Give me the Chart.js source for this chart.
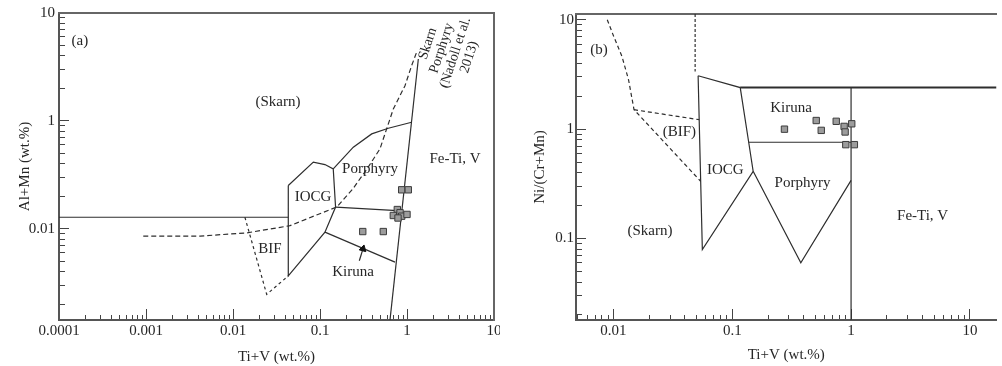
<!DOCTYPE html>
<html><head><meta charset="utf-8">
<script src="https://cdn.jsdelivr.net/npm/chart.js@4.4.1/dist/chart.umd.min.js"></script>
<style>
html,body{margin:0;padding:0;background:#fff;}
#wrap{position:relative;width:1002px;height:366px;overflow:hidden;background:#fff;}
canvas{position:absolute;top:0;}
#ca{left:0;}
#cb{left:500px;}
</style></head><body>
<div id="wrap"><canvas id="ca" width="500" height="366"></canvas><canvas id="cb" width="502" height="366"></canvas></div>
<script>
// ---------- Panel (a): Al+Mn vs Ti+V ----------
const A_X_RANGE = [0.0001, 10];
const A_Y_RANGE = [0.0143, 10];
const A_X_MAJOR = [0.0001, 0.001, 0.01, 0.1, 1, 10];
const A_X_LABELS = ['0.0001', '0.001', '0.01', '0.1', '1', '10'];
const A_Y_MAJOR = [10, 1, 0.1];
const A_Y_LABELS = ['10', '1', '0.01'];

const a_upperLimit = [{x:0.0001,y:0.128},{x:0.0432,y:0.128}];
const a_iocg = [{x:0.0432,y:0.252},{x:0.0838,y:0.415},{x:0.114,y:0.394},{x:0.142,y:0.359},{x:0.151,y:0.159},{x:0.114,y:0.0932},{x:0.0432,y:0.0367},{x:0.0432,y:0.252}];
const a_bif = [{x:0.0137,y:0.128},{x:0.0244,y:0.0247},{x:0.0432,y:0.0367}];
const a_nadoll = [{x:0.00093,y:0.0856},{x:0.00418,y:0.0856},{x:0.0144,y:0.0918},{x:0.0452,y:0.107},{x:0.157,y:0.160},{x:0.239,y:0.235},{x:0.347,y:0.359},{x:0.489,y:0.551},{x:0.696,y:1.29},{x:0.948,y:2.12},{x:1.13,y:3.25},{x:1.29,y:4.33}];
const a_porphyryTop = [{x:0.142,y:0.359},{x:0.2415,y:0.571},{x:0.393,y:0.758},{x:0.61,y:0.856},{x:1.13,y:0.972}];
const a_feTi = [{x:1.35,y:3.75},{x:0.6375,y:0.0143}];
const a_kirunaTop = [{x:0.151,y:0.159},{x:0.871,y:0.147}];
const a_kirunaLow = [{x:0.114,y:0.0932},{x:0.728,y:0.0492}];
const a_leader = [{x:0.283,y:0.0506},{x:0.312,y:0.0653}];
const a_arrowTip = [{x:0.312,y:0.0653}];
const a_sampleX = [0.869, 1.035, 0.774, 0.832, 0.696, 0.869, 1.0, 0.788, 0.31, 0.534];
const a_sampleY = [0.23, 0.23, 0.151, 0.141, 0.133, 0.131, 0.136, 0.126, 0.0944, 0.0944];
const a_textLabels = ['(a)', '(Skarn)', 'Porphyry', 'Fe-Ti, V', 'IOCG', 'BIF', 'Kiruna'];
const a_textX = [0.000174, 0.0329, 0.3755, 3.56, 0.0831, 0.0266, 0.2394];
const a_textY = [5.5, 1.5, 0.359, 0.4446, 0.1978, 0.0653, 0.04];
const a_rotLines = ['Skarn', 'Porphyry', '(Nadoll et al.', '2013)'];
const a_rotAnchor = {x: 3.0, y: 4.5};

// ---------- Panel (b): Ni/(Cr+Mn) vs Ti+V ----------
const B_X_RANGE = [0.00484, 16.75];
const B_Y_RANGE = [0.018, 11.3];
const B_X_MAJOR = [0.01, 0.1, 1, 10];
const B_X_LABELS = ['0.01', '0.1', '1', '10'];
const B_Y_MAJOR = [10, 1, 0.1];
const B_Y_LABELS = ['10', '1', '0.1'];

const b_skarnCurve = [{x:0.00887,y:10.0},{x:0.01006,y:7.04},{x:0.0118,y:4.62},{x:0.0134,y:2.83},{x:0.0149,y:1.507},{x:0.0542,y:0.334}];
const b_bifTop = [{x:0.0149,y:1.507},{x:0.0527,y:1.221}];
const b_dashedVert = [{x:0.0487,y:11.3},{x:0.0487,y:3.37}];
const b_iocg = [{x:0.0516,y:3.08},{x:0.1167,y:2.4},{x:0.1365,y:0.80},{x:0.150,y:0.412},{x:0.056,y:0.0794},{x:0.0516,y:3.08}];
const b_upper = [{x:0.1167,y:2.4},{x:16.75,y:2.4}];
const b_feTi = [{x:1,y:2.4},{x:1,y:0.018}];
const b_kirunaLow = [{x:0.1374,y:0.759},{x:1,y:0.759}];
const b_porphyry = [{x:0.150,y:0.412},{x:0.3776,y:0.060},{x:1,y:0.34}];
const b_sampleX = [0.275, 0.509, 0.561, 0.75, 0.874, 1.013, 0.891, 0.903, 1.066];
const b_sampleY = [1.0, 1.2, 0.975, 1.18, 1.06, 1.12, 0.943, 0.722, 0.722];
const b_textLabels = ['(b)', 'Kiruna', '(BIF)', 'IOCG', 'Porphyry', '(Skarn)', 'Fe-Ti, V'];
const b_textX = [0.00755, 0.312, 0.0359, 0.0875, 0.39, 0.0203, 4.0];
const b_textY = [5.32, 1.56, 0.949, 0.427, 0.324, 0.116, 0.159];

// ---------- helpers ----------
const FONT = "'Liberation Serif', 'Times New Roman', serif";
const INK = '#262626';
Chart.defaults.font.family = FONT;

function logTicks(min, max) {
  const out = [];
  for (let e = Math.floor(Math.log10(min)); e <= Math.ceil(Math.log10(max)); e++) {
    for (let m = 1; m <= 9; m++) {
      const v = Number((m * Math.pow(10, e)).toPrecision(10));
      if (v >= min * 0.9999 && v <= max * 1.0001) out.push(v);
    }
  }
  return out;
}
function labelFor(majors, labels) {
  return (v) => {
    const i = majors.findIndex(m => Math.abs(m - v) / m < 1e-6);
    return i >= 0 ? labels[i] : '';
  };
}
function lineDs(data, dash, width) {
  return {type: 'line', data, showLine: true, borderColor: '#2e2e2e', borderWidth: width || 1.2,
    borderDash: dash || [], pointRadius: 0, fill: false, tension: 0, xAxisID: 'x', yAxisID: 'y', order: 2};
}
function samplesDs(xs, ys) {
  return {type: 'scatter', data: xs.map((x, i) => ({x, y: ys[i]})), pointStyle: 'rect', pointRadius: 4.5,
    backgroundColor: '#9c9c9c', borderColor: '#3c3c3c', borderWidth: 1, xAxisID: 'x', yAxisID: 'y', order: 1};
}

function build(canvas, c) {
  const textPlugin = {
    id: 'texts_' + canvas.id,
    afterDatasetsDraw(chart) {
      const {ctx} = chart; const sx = chart.scales.x, sy = chart.scales.y;
      ctx.save();
      ctx.fillStyle = INK; ctx.font = '15px ' + FONT; ctx.textAlign = 'center'; ctx.textBaseline = 'middle';
      c.texts.forEach((t, i) => ctx.fillText(t, sx.getPixelForValue(c.textX[i]), sy.getPixelForValue(c.textY[i])));
      if (c.rot) {
        ctx.translate(sx.getPixelForValue(c.rot.anchor.x), sy.getPixelForValue(c.rot.anchor.y));
        ctx.rotate(c.rot.angle * Math.PI / 180);
        ctx.font = '14px ' + FONT;
        const n = c.rot.lines.length, lh = 14.5;
        c.rot.lines.forEach((l, i) => ctx.fillText(l, 0, (i - (n - 1) / 2) * lh));
      }
      ctx.restore();
    }
  };
  const tickFont = {family: FONT, size: 15};
  const scales = {
    x: {type: 'logarithmic', axis: 'x', position: 'bottom', weight: 1, min: c.xr[0], max: c.xr[1], bounds: 'data',
      afterBuildTicks: s => { s.ticks = logTicks(c.xr[0], c.xr[1]).map(v => ({value: v})); },
      afterFit: s => { s.height = c.xh; s.paddingLeft = 0; s.paddingRight = 0; },
      grid: {display: true, drawOnChartArea: false, drawTicks: true, tickLength: -5, tickColor: '#444', tickWidth: 1},
      border: {display: true, color: '#555', width: 2},
      ticks: {autoSkip: false, maxRotation: 0, minRotation: 0, padding: 7, color: INK, font: tickFont,
        callback: labelFor(c.xMajor, c.xLabels)},
      title: {display: true, text: 'Ti+V (wt.%)', color: INK, font: tickFont, padding: {top: 0, bottom: c.xtPad}}
    },
    xM: {type: 'logarithmic', axis: 'x', position: 'bottom', weight: 0, min: c.xr[0], max: c.xr[1], bounds: 'data',
      afterBuildTicks: s => { s.ticks = c.xMajor.filter(v => v >= c.xr[0] && v <= c.xr[1]).map(v => ({value: v})); },
      afterFit: s => { s.height = 0; s.paddingLeft = 0; s.paddingRight = 0; },
      grid: {display: true, drawOnChartArea: false, drawTicks: true, tickLength: -11, tickColor: '#444', tickWidth: 1},
      border: {display: false}, ticks: {display: false}
    },
    y: {type: 'logarithmic', axis: 'y', position: 'left', weight: 1, min: c.yr[0], max: c.yr[1], bounds: 'data',
      afterBuildTicks: s => { s.ticks = logTicks(c.yr[0], c.yr[1]).map(v => ({value: v})); },
      afterFit: s => { s.width = c.yw; s.paddingTop = 0; s.paddingBottom = 0; },
      grid: {display: true, drawOnChartArea: false, drawTicks: true, tickLength: -6, tickColor: '#444', tickWidth: 1},
      border: {display: true, color: '#555', width: 2},
      ticks: {autoSkip: false, padding: c.ylPad, color: INK, font: tickFont,
        callback: labelFor(c.yMajor, c.yLabels)},
      title: {display: true, text: c.yTitle, color: INK, font: tickFont, padding: {top: c.ytPad, bottom: 0}}
    },
    yM: {type: 'logarithmic', axis: 'y', position: 'left', weight: 0, min: c.yr[0], max: c.yr[1], bounds: 'data',
      afterBuildTicks: s => { s.ticks = c.yMajor.filter(v => v >= c.yr[0] && v <= c.yr[1]).map(v => ({value: v})); },
      afterFit: s => { s.width = 0; s.paddingTop = 0; s.paddingBottom = 0; },
      grid: {display: true, drawOnChartArea: false, drawTicks: true, tickLength: -10, tickColor: '#444', tickWidth: 1},
      border: {display: false}, ticks: {display: false}
    },
    xT: {type: 'linear', axis: 'x', position: 'top', min: 0, max: 1,
      afterFit: s => { s.height = 0; s.paddingLeft = 0; s.paddingRight = 0; },
      grid: {display: false}, ticks: {display: false}, border: {display: true, color: '#666', width: 2}
    }
  };
  if (c.rightFrame) {
    scales.yR = {type: 'linear', axis: 'y', position: 'right', min: 0, max: 1,
      afterFit: s => { s.width = 0; s.paddingTop = 0; s.paddingBottom = 0; },
      grid: {display: false}, ticks: {display: false}, border: {display: true, color: '#666', width: 2}};
  }
  return new Chart(canvas, {
    type: 'scatter',
    data: {datasets: c.datasets},
    options: {
      responsive: false, animation: false, events: [], devicePixelRatio: 1,
      layout: {padding: c.pad},
      plugins: {legend: {display: false}, tooltip: {enabled: false}},
      scales
    },
    plugins: [textPlugin]
  });
}

build(document.getElementById('ca'), {
  xr: A_X_RANGE, yr: A_Y_RANGE, xMajor: A_X_MAJOR, xLabels: A_X_LABELS, yMajor: A_Y_MAJOR, yLabels: A_Y_LABELS,
  xh: 46, yw: 59, pad: {left: 0, top: 13, right: 6, bottom: 0}, ylPad: 10, ytPad: 16, xtPad: 0,
  yTitle: 'Al+Mn (wt.%)', rightFrame: true,
  datasets: [
    lineDs(a_upperLimit), lineDs(a_iocg), lineDs(a_bif, [3, 3]), lineDs(a_nadoll, [5, 3]),
    lineDs(a_porphyryTop), lineDs(a_feTi), lineDs(a_kirunaTop), lineDs(a_kirunaLow), lineDs(a_leader),
    {type: 'scatter', data: a_arrowTip, pointStyle: 'triangle', pointRadius: 4, rotation: 15,
      backgroundColor: '#111', borderColor: '#111', xAxisID: 'x', yAxisID: 'y', order: 1},
    samplesDs(a_sampleX, a_sampleY)
  ],
  texts: a_textLabels, textX: a_textX, textY: a_textY,
  rot: {lines: a_rotLines, anchor: a_rotAnchor, angle: -72}
});

build(document.getElementById('cb'), {
  xr: B_X_RANGE, yr: B_Y_RANGE, xMajor: B_X_MAJOR, xLabels: B_X_LABELS, yMajor: B_Y_MAJOR, yLabels: B_Y_LABELS,
  xh: 46, yw: 76, pad: {left: 0, top: 14, right: 0, bottom: 0}, ylPad: 8, ytPad: 31, xtPad: 2,
  yTitle: 'Ni/(Cr+Mn)', rightFrame: false,
  datasets: [
    lineDs(b_skarnCurve, [4, 3]), lineDs(b_bifTop, [4, 3]), lineDs(b_dashedVert, [3, 2]),
    lineDs(b_iocg), lineDs(b_upper, [], 2), lineDs(b_feTi), lineDs(b_kirunaLow), lineDs(b_porphyry),
    samplesDs(b_sampleX, b_sampleY)
  ],
  texts: b_textLabels, textX: b_textX, textY: b_textY, rot: null
});
</script></body></html>
